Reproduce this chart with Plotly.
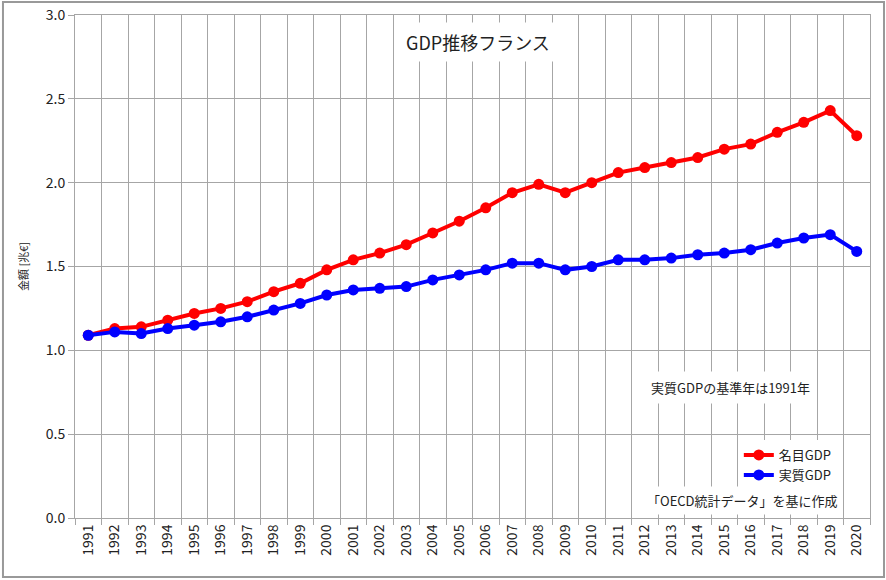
import plotly.graph_objects as go

years = list(range(1991, 2021))
nominal_gdp = [1.09, 1.13, 1.14, 1.18, 1.22, 1.25, 1.29, 1.35, 1.40, 1.48,
               1.54, 1.58, 1.63, 1.70, 1.77, 1.85, 1.94, 1.99, 1.94, 2.00,
               2.06, 2.09, 2.12, 2.15, 2.20, 2.23, 2.30, 2.36, 2.43, 2.28]
real_gdp = [1.09, 1.11, 1.10, 1.13, 1.15, 1.17, 1.20, 1.24, 1.28, 1.33,
            1.36, 1.37, 1.38, 1.42, 1.45, 1.48, 1.52, 1.52, 1.48, 1.50,
            1.54, 1.54, 1.55, 1.57, 1.58, 1.60, 1.64, 1.67, 1.69, 1.59]

FONT = "Noto Sans CJK JP"
GRID = "#a6a6a6"

fig = go.Figure()
fig.add_trace(go.Scatter(x=years, y=nominal_gdp, name="名目GDP", mode="lines+markers",
                         line=dict(color="#ff0000", width=4), marker=dict(size=11, color="#ff0000")))
fig.add_trace(go.Scatter(x=years, y=real_gdp, name="実質GDP", mode="lines+markers",
                         line=dict(color="#0000ff", width=4), marker=dict(size=11, color="#0000ff")))

fig.update_layout(
    width=886, height=580,
    margin=dict(l=75, r=16, t=15, b=62, autoexpand=False),
    paper_bgcolor="white", plot_bgcolor="white",
    font=dict(family=FONT, size=13, color="#222"),
    showlegend=True,
    legend=dict(x=0.835, y=0.155, xanchor="left", yanchor="top", bgcolor="white",
                font=dict(size=13), itemwidth=30, tracegroupgap=0),
    xaxis=dict(range=[1990.5, 2020.5], tickmode="array", tickvals=years,
               ticktext=[str(y) for y in years], tickangle=-90, showgrid=False,
               ticks="", showline=True, linecolor=GRID, mirror=True, zeroline=False,
               automargin=False,
               minor=dict(tick0=1990.5, dtick=1, showgrid=True, gridcolor=GRID,
                          ticks="outside", ticklen=6, tickcolor=GRID),
               tickfont=dict(size=14)),
    yaxis=dict(range=[0, 3.0], dtick=0.5, tickformat=".1f", showgrid=True, gridcolor=GRID,
               showline=True, linecolor=GRID, mirror=True, zeroline=False,
               ticks="outside", ticklen=6, tickcolor=GRID, automargin=False,
               title=dict(text="金額 [兆€]", font=dict(size=11, color="#222"), standoff=14),
               tickfont=dict(size=14)),
)

notes = [
    (0.507, 0.946, "GDP推移フランス", 18, 6),
    (0.824, 0.26, "実質GDPの基準年は1991年", 13, 6),
    (0.839, 0.035, "「OECD統計データ」を基に作成", 13, 4),
]
for x, y, text, size, pad in notes:
    fig.add_annotation(x=x, y=y, xref="paper", yref="paper", text=text,
                       xanchor="center", yanchor="middle", showarrow=False,
                       bgcolor="white", borderpad=pad, font=dict(size=size))

# outer frame around the whole picture
fig.add_shape(type="rect", xref="paper", yref="paper",
              x0=-0.0906, x1=1.0176, y0=-0.1173, y1=1.0258,
              line=dict(color="#999", width=2))

fig.write_html("out.html", config={"displayModeBar": False},
               post_script="document.body.style.margin='0';")
